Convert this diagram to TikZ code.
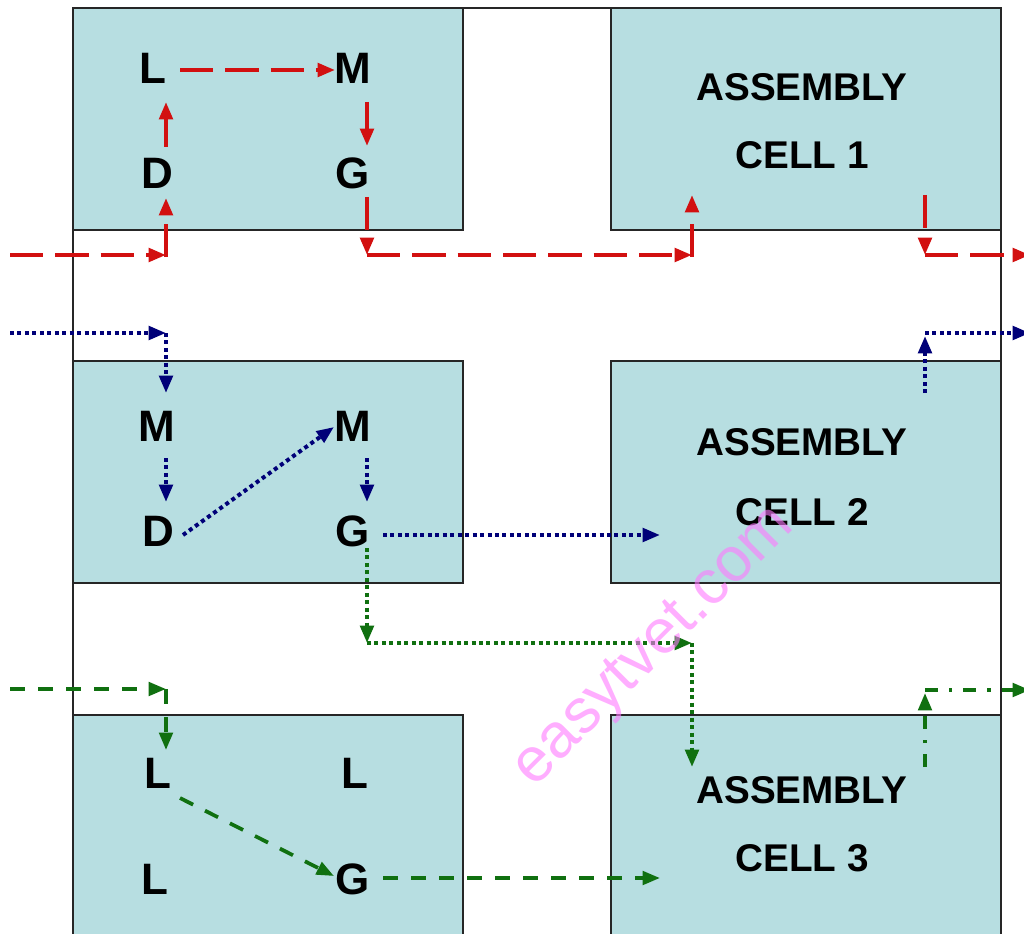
\documentclass[tikz,border=0pt]{standalone}
\usepackage{fontspec}
\setmainfont{Liberation Sans}
\usetikzlibrary{arrows.meta,calc}
\definecolor{cellfill}{RGB}{183,222,225}
\definecolor{redflow}{RGB}{210,16,16}
\definecolor{blueflow}{RGB}{0,0,120}
\definecolor{greenflow}{RGB}{16,112,16}
\definecolor{wmark}{RGB}{255,120,255}
\begin{document}
\begin{tikzpicture}[x=0.75pt,y=-0.75pt,
  cell/.style={fill=cellfill,draw=black!85,line width=1.1pt},
  frame/.style={draw=black!85,line width=1.1pt},
  op/.style={font=\fontsize{33}{33}\selectfont\bfseries,inner sep=0pt},
  celltext/.style={font=\fontsize{29}{29}\selectfont\bfseries,inner sep=0pt},
  flowtip/.style={-{Triangle[length=13pt,width=10pt]}},
  redline/.style={draw=redflow,line width=3pt,dash pattern=on 25pt off 9pt,flowtip},
  bluedot/.style={draw=blueflow,line width=3pt,dash pattern=on 3pt off 2.6pt,flowtip},
  greendot/.style={draw=greenflow,line width=3pt,dash pattern=on 3pt off 2.6pt,flowtip},
  greendash/.style={draw=greenflow,line width=2.8pt,dash pattern=on 11pt off 10pt,flowtip},
  greendashdot/.style={draw=greenflow,line width=2.8pt,dash pattern=on 9.75pt off 8.25pt on 2.5pt off 8.25pt,flowtip},
]
\useasboundingbox (0,0) rectangle (1024,934);
\fill[white] (0,0) rectangle (1024,934);
% outer frame
\draw[frame] (73,950) -- (73,8) -- (1001,8) -- (1001,950);
% cells
\draw[cell] (73,8) rectangle (463,230);
\draw[cell] (611,8) rectangle (1001,230);
\draw[cell] (73,361) rectangle (463,583);
\draw[cell] (611,361) rectangle (1001,583);
\draw[cell] (73,715) rectangle (463,950);
\draw[cell] (611,715) rectangle (1001,950);

% machine letters
\node[op] (L1) at (153,68) {L};
\node[op] (M1) at (353,68) {M};
\node[op] (D1) at (157,173) {D};
\node[op] (G1) at (353,173) {G};
\node[op] (M2a) at (157,426) {M};
\node[op] (M2b) at (353,426) {M};
\node[op] (D2) at (158,531) {D};
\node[op] (G2) at (353,531) {G};
\node[op] (L3a) at (158,773) {L};
\node[op] (L3b) at (355,773) {L};
\node[op] (L3c) at (155,879) {L};
\node[op] (G3) at (353,879) {G};

% assembly cells
\node[celltext] (a1) at (802,87) {ASSEMBLY};
\node[celltext] (c1) at (802,155) {CELL 1};
\node[celltext] (a2) at (802,442) {ASSEMBLY};
\node[celltext] (c2) at (802,512) {CELL 2};
\node[celltext] (a3) at (802,790) {ASSEMBLY};
\node[celltext] (c3) at (802,858) {CELL 3};

% coordinates
\coordinate (rin) at (10,255);
\coordinate (rc1) at (166,255);
\coordinate (rc2) at (367,255);
\coordinate (rc3) at (692,255);
\coordinate (rt1) at (692,195);
\coordinate (ro1) at (925,195);
\coordinate (rc4) at (925,255);
\coordinate (rout) at (1030,255);

\coordinate (bin) at (10,333);
\coordinate (bc1) at (166,333);
\coordinate (bt1) at (660,535);
\coordinate (bo1) at (925,393);
\coordinate (bc2) at (925,336);
\coordinate (bc2h) at (925,333);
\coordinate (bout) at (1030,333);

\coordinate (gc1) at (367,643);
\coordinate (gc2) at (692,643);
\coordinate (gt1) at (692,767);

\coordinate (gin) at (10,689);
\coordinate (gc3) at (166,689);
\coordinate (gt2) at (660,878);
\coordinate (go1) at (925,767);
\coordinate (gc4) at (925,693);
\coordinate (gc4h) at (925,690);
\coordinate (gout) at (1030,690);

% red flow
\draw[redline] (rin) -- (rc1);
\draw[redline] ($(rc1)+(0,2)$) -- ($(D1)+(9,25)$);
\draw[redline] ($(D1)+(9,-26)$) -- ($(L1)+(13,34)$);
\draw[redline] ($(L1)+(27,2)$) -- ($(M1)+(-18,2)$);
\draw[redline] ($(M1)+(14,34)$) -- ($(G1)+(14,-27)$);
\draw[redline] ($(G1)+(14,24)$) -- (rc2);
\draw[redline] (rc2) -- (rc3);
\draw[redline] ($(rc3)+(0,2)$) -- (rt1);
\draw[redline] (ro1) -- (rc4);
\draw[redline] (rc4) -- (rout);

% blue flow
\draw[bluedot] (bin) -- (bc1);
\draw[bluedot] (bc1) -- ($(M2a)+(9,-33)$);
\draw[bluedot] ($(M2a)+(9,32)$) -- ($(D2)+(8,-29)$);
\draw[bluedot] ($(D2)+(25,4)$) -- ($(M2b)+(-19,1)$);
\draw[bluedot] ($(M2b)+(14,32)$) -- ($(G2)+(14,-29)$);
\draw[bluedot] ($(G2)+(30,4)$) -- (bt1);
\draw[bluedot] (bo1) -- (bc2);
\draw[bluedot] (bc2h) -- (bout);

% green dotted flow
\draw[greendot] ($(G2)+(14,17)$) -- (gc1);
\draw[greendot] (gc1) -- (gc2);
\draw[greendot] (gc2) -- (gt1);

% green dashed flow
\draw[greendash] (gin) -- (gc3);
\draw[greendash] (gc3) -- ($(L3a)+(8,-23)$);
\draw[greendash] ($(L3a)+(22,25)$) -- ($(G3)+(-19,-3)$);
\draw[greendash] ($(G3)+(30,-1)$) -- (gt2);
\draw[greendashdot] (go1) -- (gc4);
\draw[greendashdot] (gc4h) -- (gout);

% watermark
\node[rotate=45,text=wmark,opacity=0.6,font=\fontsize{47}{47}\selectfont] (wm) at (655,648) {easytvet.com};
\end{tikzpicture}
\end{document}
